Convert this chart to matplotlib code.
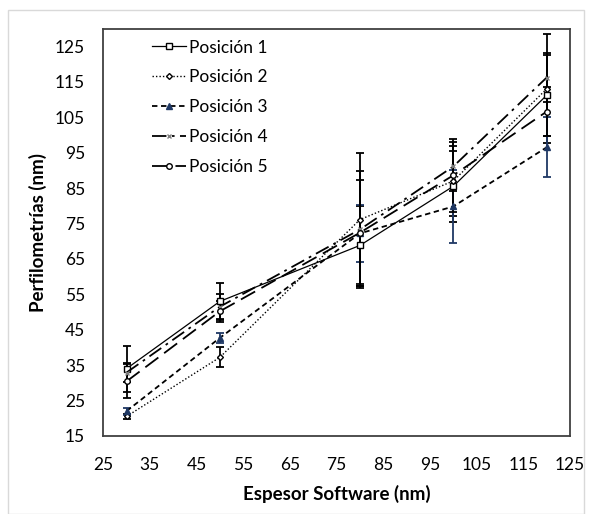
import matplotlib.pyplot as plt
from matplotlib.patches import Rectangle

plt.rcParams['font.family'] = ['Lato', 'DejaVu Sans']

espesor = [30, 50, 80, 100, 120]

pos1 = [34.0, 53.0, 68.8, 85.5, 111.2]
pos2 = [20.5, 37.2, 76.1, 87.0, 113.0]
pos3 = [22.0, 42.7, 72.2, 79.8, 96.5]
pos4 = [32.9, 51.5, 73.3, 91.1, 116.2]
pos5 = [30.4, 50.2, 72.4, 88.6, 106.6]

err1 = [6.5, 5.3, 11.0, 10.0, 11.5]
err2 = [0.6, 2.8, 18.7, 10.0, 15.4]
err3 = [1.0, 1.5, 8.0, 10.2, 8.5]
err4 = [2.6, 3.5, 16.4, 7.0, 7.0]
err5 = [4.8, 3.0, 15.0, 10.4, 7.0]

labels = ['Posición 1', 'Posición 2', 'Posición 3', 'Posición 4', 'Posición 5']

fig = plt.figure(figsize=(5.9, 5.14), dpi=100)
ax = fig.add_axes([0.175, 0.152, 0.791, 0.792])

# marco gris del area del grafico
fig.patches.append(Rectangle((0.014, 0.0), 0.975, 0.981, transform=fig.transFigure,
                             fill=False, edgecolor='#d9d9d9', linewidth=1))

navy = '#1f3864'
estilos = [
    dict(linestyle='-', marker='s', markersize=3.8, mfc='white', mec='black', color='black', lw=0.9),
    dict(linestyle=(0, (1, 1.5)), marker='D', markersize=3, mfc='white', mec='black', color='black', lw=1.0),
    dict(linestyle=(0, (3, 2)), marker='^', markersize=4, mfc=navy, mec=navy, color='black', lw=1.3),
    dict(linestyle=(0, (8, 3, 1.5, 3)), marker='x', markersize=3.5, mec='#7f7f7f', color='black', lw=1.3),
    dict(linestyle=(0, (9, 4)), marker='o', markersize=4, mfc='white', mec='black', color='black', lw=1.3),
]
series = [pos1, pos2, pos3, pos4, pos5]
errores = [err1, err2, err3, err4, err5]
ecolores = ['black', 'black', navy, 'black', 'black']

lineas = []
for y, e, st, ec, lab in zip(series, errores, estilos, ecolores, labels):
    ax.errorbar(espesor, y, yerr=e, fmt='none', ecolor=ec, elinewidth=1.3, capsize=3,
                capthick=1.3, zorder=2)
    ln, = ax.plot(espesor, y, label=lab, zorder=3, **st)
    lineas.append(ln)

ax.set_xlim(25, 125)
ax.set_ylim(15, 130)
ax.set_xticks(range(25, 126, 10))
ax.set_yticks(range(15, 126, 10))
ax.tick_params(length=0, labelsize=12.5)
ax.tick_params(axis='x', pad=15)
ax.tick_params(axis='y', pad=13)
for s in ax.spines.values():
    s.set_color('#404040')
    s.set_linewidth(1.3)

ax.set_xlabel('Espesor Software (nm)', fontsize=13.5, fontweight='bold', labelpad=9)
ax.set_ylabel('Perfilometrías (nm)', fontsize=13.5, fontweight='bold', labelpad=6)

ax.legend(handles=lineas, loc='upper left', bbox_to_anchor=(0.07, 1.012), frameon=False,
          fontsize=12.5, handlelength=2.0, handletextpad=0.15, labelspacing=0.8)

fig.savefig('out.png', dpi=100)
